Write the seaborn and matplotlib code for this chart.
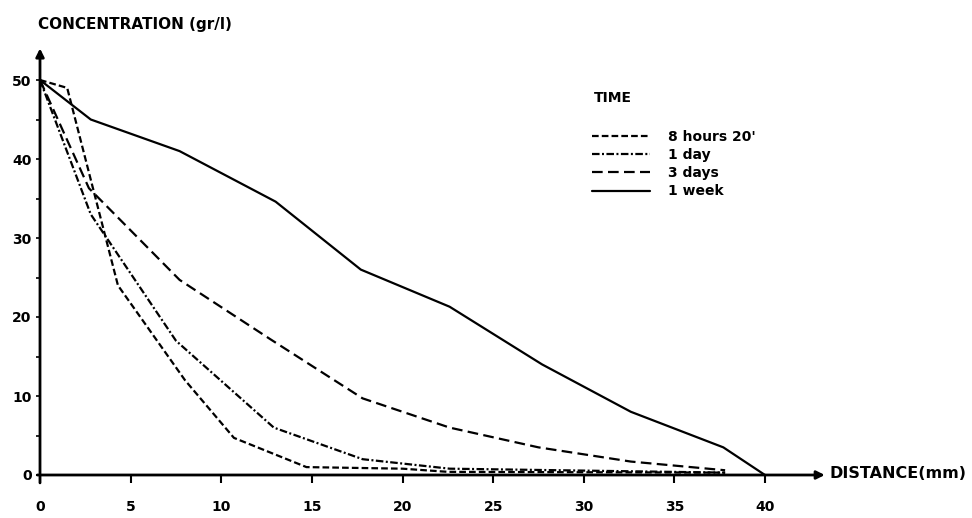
import pandas as pd
import matplotlib
matplotlib.use('Agg')
import matplotlib.pyplot as plt
import seaborn as sns

# Concentration profiles
dist_8h = [0, 1.5, 4.3, 8.0, 10.7, 14.7, 20.0, 22.5, 37.8]
conc_8h = [50, 49, 24, 12, 4.7, 1.0, 0.8, 0.4, 0.3]

dist_1d = [0, 2.8, 7.5, 12.9, 17.8, 22.6, 37.8]
conc_1d = [50, 33, 17, 6, 2, 0.8, 0.3]

dist_3d = [0, 2.7, 7.7, 12.7, 17.8, 22.6, 27.5, 32.6, 37.8]
conc_3d = [50, 36.3, 24.7, 17.2, 9.7, 6.0, 3.5, 1.7, 0.6]

dist_1w = [0, 2.8, 7.7, 13.0, 17.7, 22.6, 27.7, 32.6, 37.7, 40.0]
conc_1w = [50, 45, 41, 34.6, 26, 21.3, 14, 8, 3.5, 0]

labels = ["8 hours 20'", "1 day", "3 days", "1 week"]
x_ticks = [0, 5, 10, 15, 20, 25, 30, 35, 40]
y_ticks = [0, 10, 20, 30, 40, 50]

frames = []
for lab, d, c in zip(labels, [dist_8h, dist_1d, dist_3d, dist_1w],
                     [conc_8h, conc_1d, conc_3d, conc_1w]):
    frames.append(pd.DataFrame({'distance': d, 'conc': c, 'time': lab}))
df = pd.concat(frames, ignore_index=True)

sns.set_style('ticks')
plt.rcParams['font.family'] = ['DejaVu Sans']
plt.rcParams['font.weight'] = 'bold'
plt.rcParams['text.color'] = 'black'
plt.rcParams['xtick.color'] = 'black'
plt.rcParams['ytick.color'] = 'black'

fig = plt.figure(figsize=(9.72, 5.18), dpi=100)
ax = fig.add_axes([40 / 972, 43 / 518, 797.5 / 972, 442.4 / 518])

dash_map = {
    "8 hours 20'": (3.0, 1.4),
    "1 day": (3.4, 1.1, 0.9, 1.1),
    "3 days": (4.8, 2.4),
    "1 week": '',
}
sns.lineplot(data=df, x='distance', y='conc', hue='time', style='time',
             hue_order=labels, style_order=labels,
             palette=['black'] * 4, dashes=dash_map, sort=False,
             errorbar=None, linewidth=1.6, clip_on=False, ax=ax)

ax.set_xlim(0, 44)
ax.set_ylim(0, 56)
for s in ax.spines.values():
    s.set_visible(False)

# axis lines with arrow heads
ax.annotate('', xy=(43.3, 0), xytext=(-0.15, 0), annotation_clip=False,
            arrowprops=dict(arrowstyle='-|>', lw=2, color='black',
                            mutation_scale=12, shrinkA=0, shrinkB=0))
ax.annotate('', xy=(0, 54), xytext=(0, -1), annotation_clip=False,
            arrowprops=dict(arrowstyle='-|>', lw=2, color='black',
                            mutation_scale=12, shrinkA=0, shrinkB=0))

ax.set_xticks(x_ticks)
ax.set_yticks(y_ticks)
ax.set_yticks([5, 15, 25, 35, 45], minor=True)
ax.tick_params(axis='x', direction='out', length=6, width=1.5, pad=12, labelsize=10)
ax.tick_params(axis='y', which='both', direction='out', length=3, width=1.2,
               pad=3, labelsize=10)
ax.set_xlabel('')
ax.set_ylabel('')

sns.move_legend(ax, 'upper left', bbox_to_anchor=(592 / 972, 1 - 130 / 518),
                bbox_transform=fig.transFigure, frameon=False, title=None,
                handlelength=4.2, handletextpad=1.3, labelspacing=0.3,
                borderpad=0, borderaxespad=0, fontsize=10)

fig.text(38 / 972, 1 - 25 / 518, 'CONCENTRATION (gr/l)', fontsize=11,
         fontweight='bold', va='center')
fig.text(594 / 972, 1 - 98 / 518, 'TIME', fontsize=10, fontweight='bold', va='center')
fig.text(829 / 972, 1 - 474 / 518, 'DISTANCE(mm)', fontsize=11.5,
         fontweight='bold', va='center')

fig.savefig('out.png', dpi=100)
